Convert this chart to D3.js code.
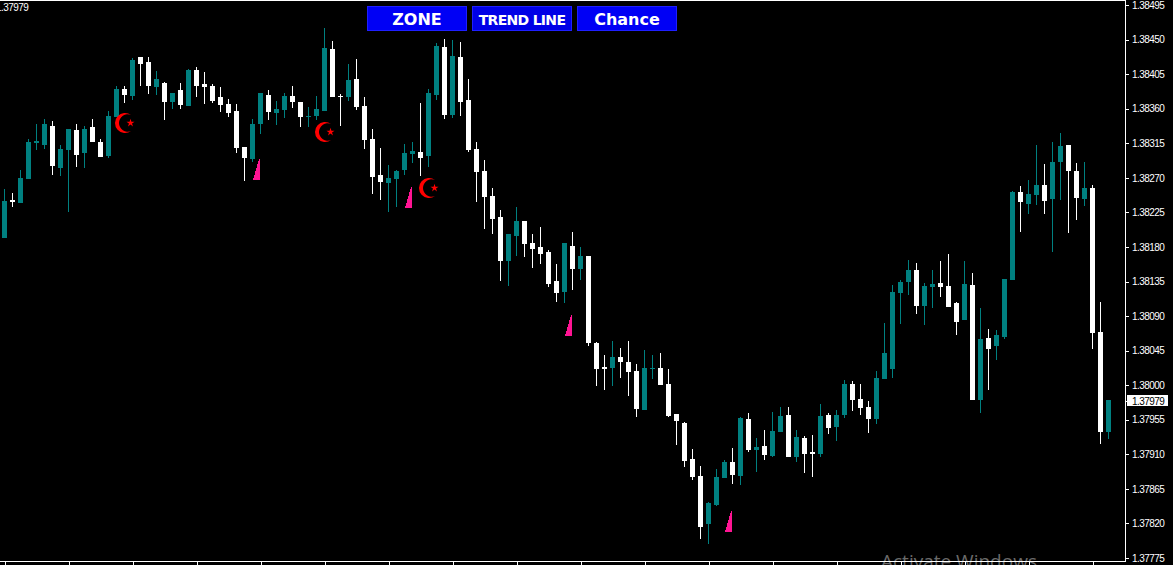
<!DOCTYPE html>
<html>
<head>
<meta charset="utf-8">
<!-- Load d3.js -->
<script src="https://d3js.org/d3.v7.min.js"></script>
<style>
  html, body { margin: 0; padding: 0; background: #000; overflow: hidden; }
  svg { display: block; }
</style>
</head>
<body>
<div id="chart"></div>
<script>

// candle prices, one entry per bar
var opens = [
  1.38192,1.38241,1.38237,1.38268,1.38315,1.38313,1.38337,1.38283,1.38306,1.38332,
  1.38302,1.38336,1.38317,1.38298,1.38349,1.38386,1.38377,1.38427,1.38421,1.38388,
  1.38393,1.38369,1.38384,1.38364,1.38410,1.38392,1.38390,1.38375,1.38366,1.38357,
  1.38310,1.38294,1.38340,1.38378,1.38354,1.38358,1.38377,1.38369,1.38349,1.38350,
  1.38357,1.38438,1.38377,1.38375,1.38399,1.38364,1.38321,1.38274,1.38263,1.38268,
  1.38280,1.38301,1.38304,1.38298,1.38378,1.38440,1.38352,1.38427,1.38371,1.38308,
  1.38279,1.38246,1.38219,1.38162,1.38194,1.38214,1.38185,1.38180,1.38173,1.38136,
  1.38121,1.38181,1.38151,1.38168,1.38055,1.38024,1.38022,1.38037,1.38030,1.38018,
  1.37968,1.38021,1.38022,1.38002,1.37962,1.37951,1.37904,1.37882,1.37819,1.37844,
  1.37879,1.37900,1.37882,1.37956,1.37916,1.37921,1.37908,1.37939,1.37961,1.37907,
  1.37931,1.37913,1.37910,1.37961,1.37946,1.37961,1.38002,1.37982,1.37972,1.37956,
  1.38008,1.38021,1.38120,1.38134,1.38150,1.38103,1.38128,1.38133,1.38129,1.38107,
  1.38085,1.38130,1.37981,1.38061,1.38051,1.38063,1.38137,1.38252,1.38236,1.38248,
  1.38261,1.38242,1.38291,1.38313,1.38279,1.38242,1.38257,1.38069,1.37939
];
var highs = [
  1.38255,1.38250,1.38280,1.38321,1.38340,1.38347,1.38344,1.38313,1.38334,1.38340,
  1.38337,1.38347,1.38321,1.38357,1.38390,1.38390,1.38426,1.38427,1.38427,1.38409,
  1.38395,1.38380,1.38393,1.38412,1.38414,1.38408,1.38392,1.38388,1.38373,1.38366,
  1.38310,1.38347,1.38380,1.38384,1.38370,1.38380,1.38390,1.38369,1.38362,1.38377,
  1.38465,1.38448,1.38379,1.38418,1.38425,1.38375,1.38334,1.38309,1.38287,1.38280,
  1.38314,1.38317,1.38367,1.38386,1.38446,1.38451,1.38449,1.38447,1.38399,1.38317,
  1.38293,1.38257,1.38228,1.38197,1.38232,1.38214,1.38197,1.38206,1.38176,1.38158,
  1.38185,1.38199,1.38180,1.38168,1.38056,1.38039,1.38058,1.38048,1.38058,1.38028,
  1.38046,1.38039,1.38042,1.38021,1.37962,1.37952,1.37917,1.37895,1.37848,1.37891,
  1.37903,1.37918,1.37959,1.37964,1.37931,1.37942,1.37965,1.37972,1.37972,1.37942,
  1.37934,1.37935,1.37976,1.37964,1.37968,1.38007,1.38005,1.38002,1.37979,1.38018,
  1.38081,1.38130,1.38137,1.38163,1.38159,1.38133,1.38150,1.38162,1.38171,1.38108,
  1.38162,1.38146,1.38100,1.38073,1.38072,1.38138,1.38253,1.38259,1.38267,1.38313,
  1.38288,1.38317,1.38328,1.38313,1.38289,1.38291,1.38261,1.38108,1.37981
];
var lows = [
  1.38192,1.38232,1.38237,1.38268,1.38306,1.38308,1.38274,1.38272,1.38225,1.38284,
  1.38283,1.38317,1.38297,1.38296,1.38349,1.38367,1.38371,1.38390,1.38379,1.38378,
  1.38345,1.38360,1.38360,1.38364,1.38375,1.38366,1.38367,1.38356,1.38349,1.38302,
  1.38266,1.38291,1.38327,1.38345,1.38339,1.38348,1.38361,1.38336,1.38336,1.38345,
  1.38357,1.38375,1.38337,1.38370,1.38358,1.38308,1.38249,1.38241,1.38225,1.38232,
  1.38274,1.38289,1.38272,1.38284,1.38371,1.38347,1.38348,1.38350,1.38304,1.38239,
  1.38203,1.38197,1.38136,1.38129,1.38168,1.38167,1.38153,1.38158,1.38128,1.38108,
  1.38107,1.38124,1.38137,1.38051,1.37999,1.37994,1.37999,1.38009,1.37986,1.37959,
  1.37968,1.38008,1.38000,1.37959,1.37922,1.37893,1.37877,1.37800,1.37793,1.37843,
  1.37879,1.37871,1.37870,1.37913,1.37887,1.37903,1.37907,1.37939,1.37907,1.37900,
  1.37886,1.37880,1.37907,1.37936,1.37927,1.37957,1.37966,1.37961,1.37938,1.37949,
  1.38008,1.38009,1.38080,1.38117,1.38093,1.38078,1.38100,1.38115,1.38102,1.38065,
  1.38085,1.37981,1.37964,1.37994,1.38033,1.38060,1.38137,1.38199,1.38223,1.38235,
  1.38223,1.38173,1.38241,1.38198,1.38215,1.38233,1.38047,1.37923,1.37930
];
var closes = [
  1.38240,1.38239,1.38270,1.38317,1.38318,1.38340,1.38285,1.38308,1.38334,1.38300,
  1.38334,1.38317,1.38297,1.38350,1.38386,1.38378,1.38423,1.38418,1.38390,1.38399,
  1.38369,1.38380,1.38365,1.38410,1.38390,1.38388,1.38370,1.38365,1.38354,1.38309,
  1.38296,1.38340,1.38380,1.38356,1.38360,1.38377,1.38369,1.38349,1.38350,1.38360,
  1.38439,1.38375,1.38375,1.38397,1.38362,1.38319,1.38271,1.38265,1.38270,1.38279,
  1.38302,1.38305,1.38296,1.38380,1.38442,1.38352,1.38429,1.38369,1.38306,1.38278,
  1.38245,1.38216,1.38162,1.38197,1.38214,1.38184,1.38177,1.38171,1.38132,1.38120,
  1.38185,1.38151,1.38168,1.38055,1.38021,1.38021,1.38037,1.38030,1.38017,1.37969,
  1.38022,1.38022,1.38000,1.37960,1.37953,1.37901,1.37880,1.37815,1.37847,1.37880,
  1.37900,1.37883,1.37957,1.37916,1.37920,1.37909,1.37940,1.37960,1.37907,1.37933,
  1.37910,1.37910,1.37960,1.37944,1.37961,1.38002,1.37981,1.37970,1.37956,1.38009,
  1.38042,1.38121,1.38134,1.38150,1.38103,1.38129,1.38132,1.38128,1.38102,1.38082,
  1.38132,1.37981,1.38060,1.38047,1.38065,1.38138,1.38252,1.38239,1.38249,1.38261,
  1.38240,1.38291,1.38311,1.38279,1.38244,1.38257,1.38068,1.37939,1.37981
];

// price axis labels
var priceTicks = [1.38495,1.38450,1.38405,1.38360,1.38315,1.38270,1.38225,1.38180,1.38135,1.38090,1.38045,1.38000,1.37955,1.37910,1.37865,1.37820,1.37775];
var lastPrice = 1.37979;

// indicator arrows: bar index and the price they sit at
var crescentBars = [14, 39, 52];
var crescentPrices = [1.38341, 1.38330, 1.38257];
var wedgeBars = [31, 50, 70, 90];
var wedgePrices = [1.38267, 1.38231, 1.38064, 1.37809];

var buttonLabels = ["ZONE", "TREND LINE", "Chance"];

var width = 1173, height = 565;
var teal = "#008080";

var svg = d3.select("#chart")
  .append("svg")
    .attr("width", width)
    .attr("height", height)
    .style("background", "#000");

var bars = d3.range(opens.length);

var x = d3.scaleLinear().domain([0, 138]).range([4.5, 1108.5]);
var y = d3.scaleLinear().domain([1.37775, 1.38495]).range([558, 5]);

function py(v) { return Math.round(y(v)); }

// watermark sits behind the frame lines, cut by the window edge
svg.append("text")
  .attr("x", 881)
  .attr("y", 568)
  .style("font-family", "'Open Sans', sans-serif")
  .style("font-size", "19px")
  .style("fill", "#6a6a6a")
  .text("Activate Windows");

// frame
svg.append("rect").attr("x", 0).attr("y", 0).attr("width", 1126).attr("height", 1).style("fill", "#fff");
svg.append("rect").attr("x", 1125).attr("y", 0).attr("width", 1).attr("height", 562).style("fill", "#fff");
svg.append("rect").attr("x", 0).attr("y", 561).attr("width", 1126).attr("height", 1).style("fill", "#fff");

// time axis ticks only, no labels in the picture
var timeAxis = d3.axisBottom(x)
  .tickValues(d3.range(0, 139, 8))
  .tickSize(4)
  .tickSizeOuter(0)
  .tickFormat("");
var gx = svg.append("g")
  .attr("transform", "translate(0,561)")
  .call(timeAxis);
gx.select(".domain").remove();
gx.selectAll("line").style("stroke", "#fff").attr("shape-rendering", "crispEdges");

// price axis
var priceAxis = d3.axisRight(y)
  .tickValues(priceTicks)
  .tickSize(4)
  .tickPadding(3)
  .tickFormat(d3.format(".5f"));
var gy = svg.append("g")
  .attr("transform", "translate(1125,0)")
  .call(priceAxis);
gy.select(".domain").remove();
gy.selectAll("line").style("stroke", "#fff").attr("shape-rendering", "crispEdges");
gy.selectAll("text")
  .style("font-family", "'Liberation Sans', Arial, sans-serif")
  .style("font-size", "10px")
  .style("letter-spacing", "-0.55px")
  .style("fill", "#fff");

// wicks
svg.append("g")
  .selectAll("rect")
  .data(bars)
  .enter()
  .append("rect")
    .attr("x", function (i) { return x(i) - 0.5; })
    .attr("y", function (i) { return py(highs[i]); })
    .attr("width", 1)
    .attr("height", function (i) { return py(lows[i]) - py(highs[i]); })
    .style("fill", function (i) { return closes[i] >= opens[i] ? teal : "#fff"; });

// bodies
svg.append("g")
  .selectAll("rect")
  .data(bars)
  .enter()
  .append("rect")
    .attr("x", function (i) { return x(i) - 2.5; })
    .attr("y", function (i) { return py(Math.max(opens[i], closes[i])); })
    .attr("width", 5)
    .attr("height", function (i) { return Math.max(1, py(Math.min(opens[i], closes[i])) - py(Math.max(opens[i], closes[i]))); })
    .style("fill", function (i) { return closes[i] >= opens[i] ? teal : "#fff"; });

// crescent and star arrows
var crescent = svg.append("g")
  .selectAll("g")
  .data(crescentBars)
  .enter()
  .append("g")
    .attr("transform", function (d, i) { return "translate(" + (x(d) + 8.5) + "," + py(crescentPrices[i]) + ")"; })
    .style("fill", "#f00");
crescent.append("path")
  .attr("d", "M6,-8 A10,10 0 1 0 6,8 A8.67,8.67 0 1 1 6,-8 Z");
crescent.append("path")
  .attr("transform", "translate(5.5,0)")
  .attr("d", d3.symbol().type(d3.symbolStar).size(20));

// pink wedge arrows
var wedge = d3.line();
svg.append("g")
  .selectAll("path")
  .data(wedgeBars)
  .enter()
  .append("path")
    .attr("d", function (d, i) {
      var left = x(d) + 0.5, base = py(wedgePrices[i]);
      return wedge([[left, base], [left + 7, base], [left + 7, base - 21], [left + 6, base - 21]]) + "Z";
    })
    .attr("shape-rendering", "crispEdges")
    .style("fill", "#ff1493");

// last price tag
svg.append("rect")
  .attr("x", 1127)
  .attr("y", py(lastPrice) - 6)
  .attr("width", 41)
  .attr("height", 11)
  .style("fill", "#fff");
svg.append("rect")
  .attr("x", 1125)
  .attr("y", py(lastPrice))
  .attr("width", 3)
  .attr("height", 1)
  .style("fill", "#fff");
svg.append("text")
  .attr("x", 1132)
  .attr("y", py(lastPrice) + 3.5)
  .style("font-family", "'Liberation Sans', Arial, sans-serif")
  .style("font-size", "10px")
  .style("letter-spacing", "-0.55px")
  .style("fill", "#000")
  .text(d3.format(".5f")(lastPrice));

// same price repeated top left, first digit cut by the window
svg.append("text")
  .attr("x", -4)
  .attr("y", 11)
  .style("font-family", "'Liberation Sans', Arial, sans-serif")
  .style("font-size", "10px")
  .style("letter-spacing", "-0.55px")
  .style("fill", "#fff")
  .text(d3.format(".5f")(lastPrice));

// buttons
var band = d3.scaleBand()
  .domain(buttonLabels)
  .range([367, 677])
  .paddingInner(5 / 105);

var button = svg.append("g")
  .selectAll("g")
  .data(buttonLabels)
  .enter()
  .append("g");
button.append("rect")
  .attr("x", function (d) { return band(d) + 0.5; })
  .attr("y", 6.5)
  .attr("width", band.bandwidth() - 1)
  .attr("height", 24)
  .style("fill", function (d) { return d === "TREND LINE" ? "#0000e6" : "#0000f5"; })
  .style("stroke", "#1f1fff")
  .style("stroke-width", 1);
button.append("text")
  .attr("x", function (d) { return band(d) + band.bandwidth() / 2; })
  .attr("y", 25)
  .attr("text-anchor", "middle")
  .style("font-family", "'DejaVu Sans', sans-serif")
  .style("font-weight", "bold")
  .style("font-size", function (d) { return d === "TREND LINE" ? "14px" : "16px"; })
  .style("letter-spacing", function (d) { return d === "TREND LINE" ? "-0.7px" : "0"; })
  .style("fill", "#fff")
  .text(function (d) { return d; });

</script>
</body>
</html>
